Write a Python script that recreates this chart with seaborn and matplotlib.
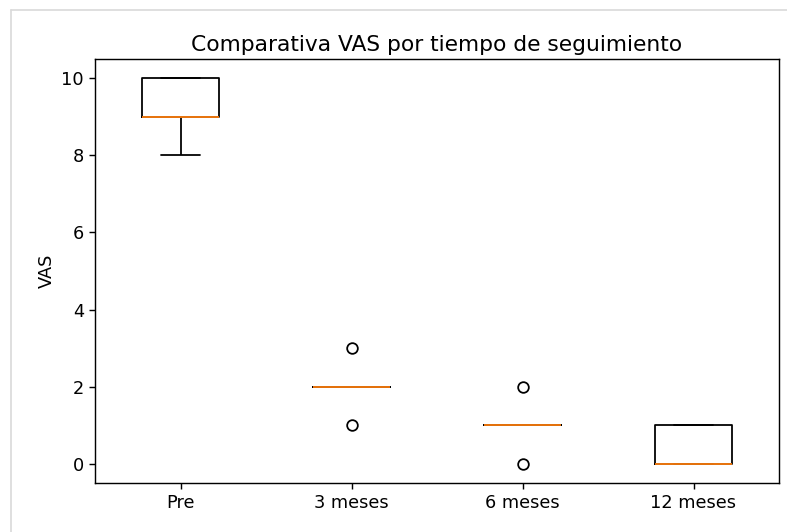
import matplotlib
matplotlib.use('Agg')
import matplotlib.pyplot as plt
from matplotlib.lines import Line2D
import pandas as pd
import seaborn as sns

# VAS scores per follow-up time
tiempos = ['Pre', '3 meses', '6 meses', '12 meses']
vas_pre = [8, 9, 9, 10, 10]
vas_3m = [1, 2, 2, 2, 3]
vas_6m = [0, 1, 1, 1, 2]
vas_12m = [0, 0, 0, 1, 1]

df = pd.DataFrame({
    'tiempo': [tiempos[0]] * len(vas_pre) + [tiempos[1]] * len(vas_3m)
    + [tiempos[2]] * len(vas_6m) + [tiempos[3]] * len(vas_12m),
    'VAS': vas_pre + vas_3m + vas_6m + vas_12m,
})

sns.set_style('white')
plt.rcParams['font.family'] = ['DejaVu Sans']
plt.rcParams.update({'text.color': 'black', 'axes.labelcolor': 'black',
                     'xtick.color': 'black', 'ytick.color': 'black'})
scale = 1.28
lw = 1.0 * scale

fig = plt.figure(figsize=(7.87, 5.32), dpi=100)
ax = fig.add_axes([95 / 787, 1 - 483 / 532, 684 / 787, 424 / 532])

sns.boxplot(
    data=df, x='tiempo', y='VAS', order=tiempos, ax=ax,
    fill=False, color='black', linecolor='black', width=0.45, linewidth=lw,
    medianprops={'color': '#ff7f0e', 'linewidth': lw},
    flierprops={'marker': 'o', 'markerfacecolor': 'none',
                'markeredgecolor': 'black', 'markersize': 6 * scale,
                'markeredgewidth': lw},
)

ax.set_title('Comparativa VAS por tiempo de seguimiento', fontsize=15.7,
             color='black')
ax.set_xlabel('')
ax.set_ylabel('VAS', fontsize=10 * scale)
ax.set_ylim(-0.5, 10.5)
ax.set_xlim(-0.5, 3.5)
ax.tick_params(labelsize=10 * scale, length=3.5 * scale, width=0.8 * scale,
               bottom=True, left=True, colors='black')
for s in ax.spines.values():
    s.set_visible(True)
    s.set_color('black')
    s.set_linewidth(0.8 * scale)

# light frame of the original screenshot
fig.add_artist(Line2D([11 / 787, 11 / 787], [0, 1 - 10 / 532],
                      transform=fig.transFigure, color='#d9d9d9', lw=1.2))
fig.add_artist(Line2D([11 / 787, 1], [1 - 10 / 532, 1 - 10 / 532],
                      transform=fig.transFigure, color='#d9d9d9', lw=1.2))

fig.savefig('out.png', dpi=100)
